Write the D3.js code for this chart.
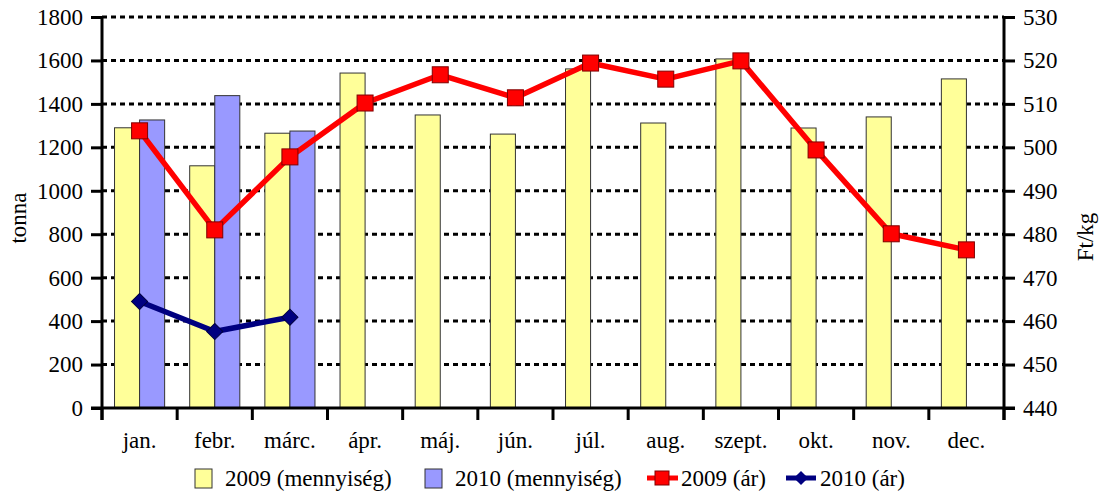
<!DOCTYPE html>
<html>
<head>
<meta charset="utf-8">
<script src="https://cdn.jsdelivr.net/npm/d3@7"></script>
<style>
  body { margin: 0; background: #fff; }
  svg text { font-family: "Liberation Serif", "DejaVu Serif", serif; font-size: 23px; fill: #000; }
</style>
</head>
<body>
<div id="graph"></div>
<script>
var months = ["jan.", "febr.", "márc.", "ápr.", "máj.", "jún.", "júl.", "aug.", "szept.", "okt.", "nov.", "dec."]
var qty2009 = [1290, 1115, 1265, 1542, 1349, 1261, 1561, 1312, 1607, 1289, 1340, 1515]
var qty2010 = [1326, 1438, 1275]
var price2009 = [503.8, 481.0, 497.8, 510.2, 516.7, 511.4, 519.4, 515.7, 519.9, 499.4, 480.1, 476.4]
var price2010 = [464.5, 457.6, 460.9]
var leftTicks = [0, 200, 400, 600, 800, 1000, 1200, 1400, 1600, 1800]
var rightTicks = [440, 450, 460, 470, 480, 490, 500, 510, 520, 530]
var legendLabels = ["2009 (mennyiség)", "2010 (mennyiség)", "2009 (ár)", "2010 (ár)"]

var W = 1113, H = 494
var plot = {left: 102, right: 1004, top: 17, bottom: 408}

var svg = d3.select('#graph').append('svg')
  .attr('width', W).attr('height', H)

var x = d3.scaleBand().domain(months).range([plot.left, plot.right]).padding(0)
var xs = d3.scaleBand().domain(["2009", "2010"]).range([0, x.bandwidth()]).paddingInner(0).paddingOuter(0.5)
var y = d3.scaleLinear().domain([0, 1800]).range([plot.bottom, plot.top])
var y2 = d3.scaleLinear().domain([440, 530]).range([plot.bottom, plot.top])

// gridlines
svg.append('g').selectAll('line')
  .data(leftTicks.filter(function(d) { return d > 0 }))
  .enter().append('line')
  .attr('x1', plot.left).attr('x2', plot.right)
  .attr('y1', function(d) { return y(d) }).attr('y2', function(d) { return y(d) })
  .attr('stroke', '#000').attr('stroke-width', 3).attr('stroke-dasharray', '5,4')

// bars
var bars = svg.append('g')
bars.selectAll('.b09').data(qty2009).enter().append('rect')
  .attr('x', function(d, i) { return x(months[i]) + xs("2009") })
  .attr('width', xs.bandwidth())
  .attr('y', function(d) { return y(d) })
  .attr('height', function(d) { return plot.bottom - y(d) })
  .attr('fill', '#FFFF99').attr('stroke', '#333').attr('stroke-width', 1)
bars.selectAll('.b10').data(qty2010).enter().append('rect')
  .attr('x', function(d, i) { return x(months[i]) + xs("2010") })
  .attr('width', xs.bandwidth())
  .attr('y', function(d) { return y(d) })
  .attr('height', function(d) { return plot.bottom - y(d) })
  .attr('fill', '#9999FF').attr('stroke', '#333').attr('stroke-width', 1)

// axes
var yAxisL = svg.append('g').attr('transform', 'translate(' + plot.left + ',0)')
  .call(d3.axisLeft(y).tickValues(leftTicks).tickFormat(d3.format('d')).tickSize(11).tickPadding(8))
var yAxisR = svg.append('g').attr('transform', 'translate(' + plot.right + ',0)')
  .call(d3.axisRight(y2).tickValues(rightTicks).tickFormat(d3.format('d')).tickSize(11).tickPadding(8))
var xAxis = svg.append('g').attr('transform', 'translate(0,' + plot.bottom + ')')
  .call(d3.axisBottom(x).tickSize(0).tickPadding(24))

;[yAxisL, yAxisR, xAxis].forEach(function(a) {
  a.select('.domain').remove()
  a.attr('font-size', null).attr('font-family', null)
  a.selectAll('line').attr('stroke', '#000').attr('stroke-width', 3)
})

// category boundary ticks
var bounds = months.map(function(m) { return x(m) }).concat([plot.right])
svg.append('g').selectAll('line').data(bounds).enter().append('line')
  .attr('x1', function(d) { return d }).attr('x2', function(d) { return d })
  .attr('y1', plot.bottom).attr('y2', plot.bottom + 12)
  .attr('stroke', '#000').attr('stroke-width', 3)

svg.append('line').attr('x1', plot.left).attr('x2', plot.left).attr('y1', plot.top).attr('y2', plot.bottom + 12)
  .attr('stroke', '#000').attr('stroke-width', 3)
svg.append('line').attr('x1', plot.right).attr('x2', plot.right).attr('y1', plot.top).attr('y2', plot.bottom + 12)
  .attr('stroke', '#000').attr('stroke-width', 3)
svg.append('line').attr('x1', plot.left - 11).attr('x2', plot.right + 11).attr('y1', plot.bottom).attr('y2', plot.bottom)
  .attr('stroke', '#000').attr('stroke-width', 3)

// price lines
var cx = function(i) { return x(months[i]) + x.bandwidth() / 2 }
var line = d3.line().x(function(d, i) { return cx(i) }).y(function(d) { return y2(d) })

svg.append('path').datum(price2009).attr('d', line)
  .attr('fill', 'none').attr('stroke', '#FF0000').attr('stroke-width', 5.5).attr('stroke-linejoin', 'round')
svg.append('g').selectAll('rect').data(price2009).enter().append('rect')
  .attr('x', function(d, i) { return cx(i) - 8 }).attr('y', function(d) { return y2(d) - 8 })
  .attr('width', 16).attr('height', 16)
  .attr('fill', '#FF0000').attr('stroke', '#800000').attr('stroke-width', 1)

svg.append('path').datum(price2010).attr('d', line)
  .attr('fill', 'none').attr('stroke', '#000080').attr('stroke-width', 5.5).attr('stroke-linejoin', 'round')
svg.append('g').selectAll('path').data(price2010).enter().append('path')
  .attr('d', d3.symbol().type(d3.symbolSquare).size(130))
  .attr('transform', function(d, i) { return 'translate(' + cx(i) + ',' + y2(d) + ') rotate(45)' })
  .attr('fill', '#000080').attr('stroke', '#000040').attr('stroke-width', 1)

// axis titles
svg.append('text').attr('transform', 'translate(26,218) rotate(-90)')
  .attr('text-anchor', 'middle').text('tonna')
svg.append('text').attr('transform', 'translate(1093,237) rotate(-90)')
  .attr('text-anchor', 'middle').text('Ft/kg')

// legend
var lg = svg.append('g')
var ly = 478
lg.append('rect').attr('x', 195).attr('y', ly - 9).attr('width', 17).attr('height', 19)
  .attr('fill', '#FFFF99').attr('stroke', '#333')
lg.append('text').attr('x', 225).attr('y', ly).attr('dy', '0.35em').text(legendLabels[0])
lg.append('rect').attr('x', 425).attr('y', ly - 9).attr('width', 17).attr('height', 19)
  .attr('fill', '#9999FF').attr('stroke', '#333')
lg.append('text').attr('x', 455).attr('y', ly).attr('dy', '0.35em').text(legendLabels[1])
lg.append('line').attr('x1', 647).attr('x2', 678).attr('y1', ly).attr('y2', ly)
  .attr('stroke', '#FF0000').attr('stroke-width', 5)
lg.append('rect').attr('x', 655).attr('y', ly - 7).attr('width', 14).attr('height', 14)
  .attr('fill', '#FF0000').attr('stroke', '#800000')
lg.append('text').attr('x', 681).attr('y', ly).attr('dy', '0.35em').text(legendLabels[2])
lg.append('line').attr('x1', 786).attr('x2', 816).attr('y1', ly).attr('y2', ly)
  .attr('stroke', '#000080').attr('stroke-width', 5)
lg.append('path').attr('d', d3.symbol().type(d3.symbolSquare).size(100))
  .attr('transform', 'translate(801,' + ly + ') rotate(45)').attr('fill', '#000080')
lg.append('text').attr('x', 820).attr('y', ly).attr('dy', '0.35em').text(legendLabels[3])
</script>
</body>
</html>
